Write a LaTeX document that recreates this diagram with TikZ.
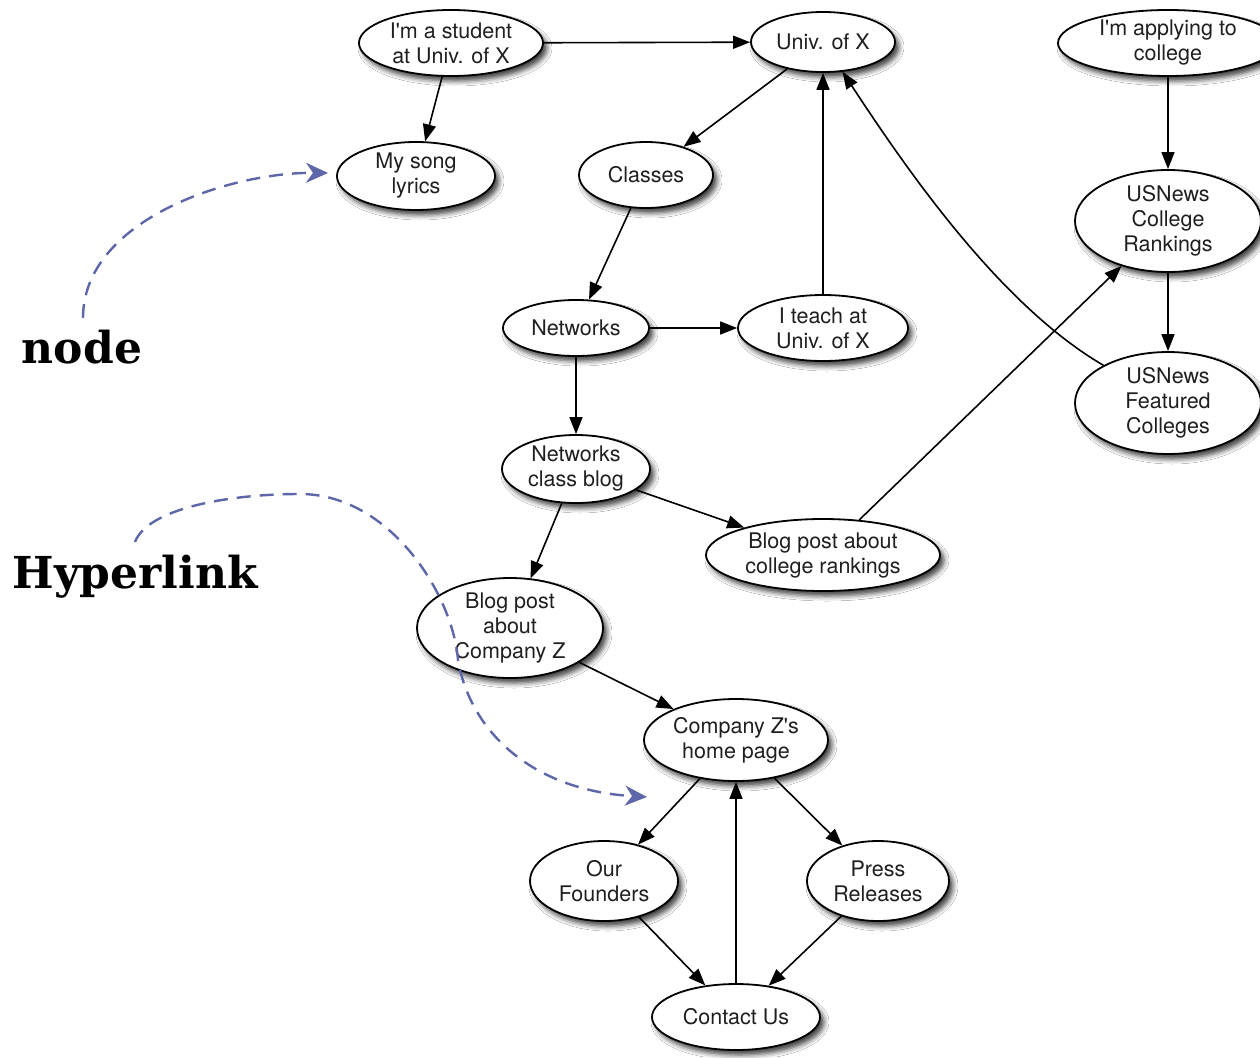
\documentclass[tikz,border=0pt]{standalone}
\usepackage{fontspec}
\newfontfamily\helv{TeX Gyre Heros}
\newfontfamily\lblfont{DejaVu Serif}
\usetikzlibrary{shapes.geometric,arrows.meta,shadows.blur}
\definecolor{hlblue}{RGB}{92,102,168}
\begin{document}
\begin{tikzpicture}[x=1pt,y=-1pt,
  nd/.style={ellipse, draw=black, line width=1.8pt, fill=white, inner sep=0pt, align=center,
    font=\helv\fontsize{21.5}{25}\selectfont, text=black!88,
    blur shadow={shadow xshift=4pt, shadow yshift=-5pt, shadow blur radius=5pt, shadow opacity=75}},
  ed/.style={line width=1.6pt, -{Triangle[length=17pt,width=13pt]}},
  hl/.style={draw=hlblue, line width=2.4pt, dash pattern=on 14pt off 9pt,
    -{Stealth[length=22pt,width=20pt,inset=7pt]}},
  lbl/.style={font=\lblfont\bfseries\fontsize{44}{50}\selectfont, inner sep=0pt, anchor=base}
]
\useasboundingbox[fill=white] (0,0) rectangle (1260,1057);

\node[nd, minimum width=184pt, minimum height=66pt] (stu) at (451,43) {I'm a student\\at Univ. of X};
\node[nd, minimum width=158pt, minimum height=68pt] (song) at (416,176) {My song\\lyrics};
\node[nd, minimum width=144pt, minimum height=60pt] (univ) at (823,42) {Univ. of X};
\node[nd, minimum width=220pt, minimum height=66pt] (appl) at (1168,43) {I'm applying to\\college};
\node[nd, minimum width=134pt, minimum height=66pt] (cls) at (646,175) {Classes};
\node[nd, minimum width=186pt, minimum height=102pt] (usr) at (1168,221) {USNews\\College\\Rankings};
\node[nd, minimum width=146pt, minimum height=56pt] (net) at (576,328) {Networks};
\node[nd, minimum width=170pt, minimum height=66pt] (teach) at (823,328) {I teach at\\Univ. of X};
\node[nd, minimum width=186pt, minimum height=102pt] (usf) at (1168,403) {USNews\\Featured\\Colleges};
\node[nd, minimum width=148pt, minimum height=68pt] (ncb) at (576,469) {Networks\\class blog};
\node[nd, minimum width=234pt, minimum height=72pt] (bpr) at (823,555) {Blog post about\\college rankings};
\node[nd, minimum width=186pt, minimum height=100pt] (bpz) at (510,628) {Blog post\\about\\Company Z};
\node[nd, minimum width=184pt, minimum height=82pt] (cz) at (736,740) {Company Z's\\home page};
\node[nd, minimum width=148pt, minimum height=80pt] (ourf) at (604,881) {Our\\Founders};
\node[nd, minimum width=142pt, minimum height=80pt] (press) at (878,881) {Press\\Releases};
\node[nd, minimum width=168pt, minimum height=66pt] (contact) at (736,1017) {Contact Us};

\draw[ed] (stu) -- (univ);
\draw[ed] (stu) -- (song);
\draw[ed] (univ) -- (cls);
\draw[ed] (cls) -- (net);
\draw[ed] (net) -- (teach);
\draw[ed] (teach) -- (univ);
\draw[ed] (net) -- (ncb);
\draw[ed] (ncb) -- (bpr);
\draw[ed] (ncb) -- (bpz);
\draw[ed] (bpr) -- (usr);
\draw[ed] (appl) -- (usr);
\draw[ed] (usr) -- (usf);
\draw[ed] (usf) .. controls (1000,305) and (907,170) .. (univ);
\draw[ed] (bpz) -- (cz);
\draw[ed] (cz) -- (ourf);
\draw[ed] (cz) -- (press);
\draw[ed] (ourf) -- (contact);
\draw[ed] (press) -- (contact);
\draw[ed] (contact) -- (cz);

\node[lbl] (lnode) at (82,363) {node};
\node[lbl] (lhyp) at (135,588) {Hyperlink};
\coordinate (ns) at (83,318);
\coordinate (ne) at (328,173);
\coordinate (hs) at (135,542);
\coordinate (ht) at (300,494);
\coordinate (hm) at (458,660);
\coordinate (he) at (647,797);
\draw[hl] (ns) .. controls (83,220) and (230,172) .. (ne);
\draw[hl] (hs) .. controls (148,508) and (230,494) .. (ht)
  .. controls (390,494) and (453,595) .. (hm)
  .. controls (470,730) and (530,790) .. (he);
\end{tikzpicture}
\end{document}
